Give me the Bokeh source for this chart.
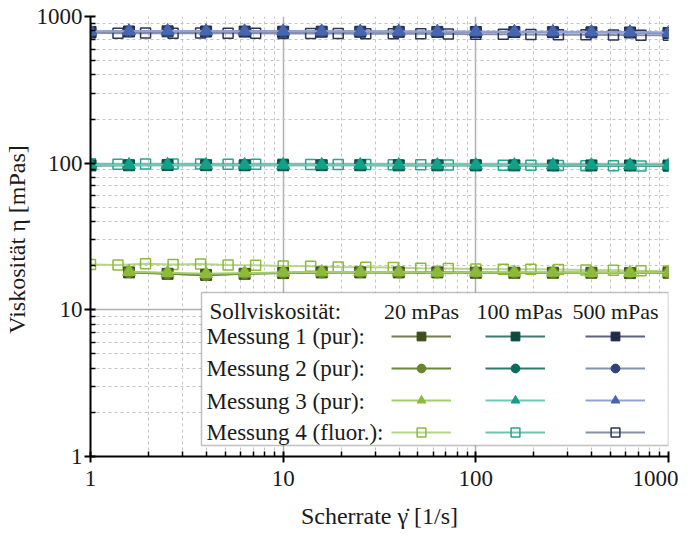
from bokeh.plotting import figure
from bokeh.models import (Range1d, FixedTicker, Legend, LegendItem, BoxAnnotation,
                          Label, CustomJSTickFormatter)
from bokeh.embed import file_html
from bokeh.resources import INLINE

FONT = "Liberation Serif"

# ---------------- data ----------------
x_pur = [1, 1.585, 2.512, 3.981, 6.31, 10, 15.85, 25.12, 39.81, 63.1,
         100, 158.5, 251.2, 398.1, 631, 1000]
x_pur_20 = [1.585, 2.512, 3.981, 6.31, 10, 15.85, 25.12, 39.81, 63.1,
            100, 158.5, 251.2, 398.1, 631, 1000]
x_fluor = [1, 1.389, 1.931, 2.683, 3.728, 5.179, 7.197, 10, 13.89, 19.31, 26.83,
           37.28, 51.79, 71.97, 100, 138.9, 193.1, 268.3, 372.8, 517.9, 719.7, 1000]

v20_m1 = [18.0, 17.6, 17.3, 17.6, 17.8, 18.0, 18.0, 18.0, 18.0, 17.9, 17.9, 17.9, 17.9, 17.8, 17.9]
v20_m2 = [18.1, 17.7, 17.2, 17.7, 17.9, 18.0, 18.1, 18.0, 18.0, 18.0, 17.9, 17.9, 17.9, 17.9, 17.9]
v20_m3 = [18.2, 17.9, 17.6, 17.8, 18.0, 18.1, 18.1, 18.1, 18.0, 18.0, 18.0, 18.0, 17.9, 17.9, 18.0]
v20_m4 = [20.4, 20.2, 20.6, 20.4, 20.5, 20.2, 20.1, 19.9, 19.8, 19.6, 19.5,
          19.4, 19.2, 19.1, 19.0, 18.9, 18.9, 18.8, 18.7, 18.6, 18.5, 18.4]

v100_m1 = [96.5, 96.8, 97.0, 96.9, 96.8, 96.8, 96.9, 96.8, 96.7, 96.7, 96.6, 96.6, 96.5, 96.5, 96.4, 96.3]
v100_m2 = [96.8, 97.1, 97.2, 97.1, 97.0, 97.0, 97.1, 97.0, 96.9, 96.9, 96.8, 96.8, 96.7, 96.7, 96.6, 96.5]
v100_m3 = [97.0, 97.3, 97.4, 97.3, 97.2, 97.2, 97.3, 97.2, 97.1, 97.1, 97.0, 97.0, 96.9, 96.9, 96.8, 96.7]
v100_m4 = [99.0, 98.5, 98.8, 98.6, 98.7, 98.5, 98.4, 98.3, 98.1, 98.0, 97.8,
           97.6, 97.4, 97.2, 97.0, 96.8, 96.6, 96.4, 96.2, 96.0, 95.8, 95.5]

v500_m1 = [785, 790, 792, 790, 789, 788, 788, 787, 786, 785, 784, 783, 782, 780, 778, 772]
v500_m2 = [788, 792, 794, 792, 791, 790, 790, 789, 788, 787, 786, 785, 784, 782, 780, 774]
v500_m3 = [790, 794, 796, 794, 793, 792, 792, 791, 790, 789, 788, 787, 786, 784, 782, 776]
v500_m4 = [775, 768, 772, 770, 771, 769, 768, 767, 766, 765, 764,
           763, 762, 760, 758, 756, 754, 752, 750, 748, 746, 744]

major_ticks = [1, 10, 100, 1000]
minor_ticks = [m * d for d in (1, 10, 100) for m in range(2, 10)]

header_text = "Sollviskosität:"
column_labels = ["20 mPas", "100 mPas", "500 mPas"]
row_labels = ["Messung 1 (pur):", "Messung 2 (pur):", "Messung 3 (pur):", "Messung 4 (fluor.):"]

# styles: (marker colour, line colour) per measurement per group
styles = {
    "20": [("#3c4f1b", "#6f7f4f"), ("#66862a", "#6a8a38"), ("#8cbb3a", "#a6cd6c"), ("#8cbb3a", "#b5d58a")],
    "100": [("#0c4a3d", "#3f7a70"), ("#0a6b5a", "#2c7c6d"), ("#13a088", "#6cc9b6"), ("#27a58e", "#6cc4b0")],
    "500": [("#1f2b4b", "#5a6482"), ("#2e4377", "#8392b8"), ("#4766b0", "#8fa3d8"), ("#2b3658", "#8890a8")],
}

groups = [
    ("20", [(x_pur_20, v20_m1), (x_pur_20, v20_m2), (x_pur_20, v20_m3), (x_fluor, v20_m4)]),
    ("100", [(x_pur, v100_m1), (x_pur, v100_m2), (x_pur, v100_m3), (x_fluor, v100_m4)]),
    ("500", [(x_pur, v500_m1), (x_pur, v500_m2), (x_pur, v500_m3), (x_fluor, v500_m4)]),
]

p = figure(width=678, height=531, x_axis_type="log", y_axis_type="log",
           x_range=Range1d(1, 1000), y_range=Range1d(1, 1000),
           output_backend="svg", toolbar_location=None,
           min_border_left=84, min_border_right=10, min_border_top=16, min_border_bottom=74)
p.outline_line_color = None
p.background_fill_color = "white"

ticker = FixedTicker(ticks=major_ticks, minor_ticks=minor_ticks)
fmt = CustomJSTickFormatter(code="return tick.toFixed(0);")
for ax in (p.xaxis[0], p.yaxis[0]):
    ax.ticker = ticker
    ax.formatter = fmt
    ax.axis_line_width = 2
    ax.axis_line_color = "black"
    ax.major_tick_line_width = 2
    ax.major_tick_line_color = "black"
    ax.minor_tick_line_width = 1.5
    ax.minor_tick_line_color = "black"
    ax.major_tick_in = 5
    ax.major_tick_out = 6
    ax.minor_tick_in = 5
    ax.minor_tick_out = 0
    ax.major_label_text_font = FONT
    ax.major_label_text_font_size = "23px"
    ax.major_label_text_color = "#1a1a1a"
    ax.axis_label_text_font = FONT
    ax.axis_label_text_font_size = "24px"
    ax.axis_label_text_font_style = "normal"
    ax.axis_label_text_color = "#1a1a1a"

p.xaxis.major_label_standoff = 8
p.yaxis.major_label_standoff = 2
p.xaxis.axis_label = "Scherrate \u03b3\u0307 [1/s]"
p.yaxis.axis_label = "Viskosität \u03b7  [mPas]"
p.xaxis.axis_label_standoff = 14
p.yaxis.axis_label_standoff = 4

for g in (p.xgrid[0], p.ygrid[0]):
    g.ticker = ticker
    g.grid_line_color = "#b0b0b0"
    g.grid_line_width = 1.5
    g.minor_grid_line_color = "#c4c4c4"
    g.minor_grid_line_dash = "3 3"
    g.minor_grid_line_width = 1

markers = ["square", "circle", "triangle", "square"]
sizes = [11, 11, 13, 10]

legend_renderers = {}
for key, series in groups:
    order = [3, 0, 1, 2]
    legend_renderers[key] = [None] * 4
    for i in order:
        xs, ys = series[i]
        mcol, lcol = styles[key][i]
        lr = p.line(xs, ys, line_color=lcol, line_width=2)
        if i == 3:
            sr = p.scatter(xs, ys, marker="square", size=sizes[i], fill_color="white",
                           fill_alpha=0, line_color=mcol, line_width=1.5)
        else:
            sr = p.scatter(xs, ys, marker=markers[i], size=sizes[i], fill_color=mcol,
                           line_color=mcol, line_width=1)
        legend_renderers[key][i] = [lr, sr]

# legend box
box = BoxAnnotation(left=111, right=578, bottom=11, top=164,
                    left_units="screen", right_units="screen",
                    bottom_units="screen", top_units="screen",
                    fill_color="white", fill_alpha=1,
                    line_color="#333333", line_width=1.5)
p.add_layout(box)

col_x = [301, 395, 495]
for (key, _), cx in zip(groups, col_x):
    items = [LegendItem(label=" ", renderers=legend_renderers[key][i]) for i in range(4)]
    leg = Legend(items=items, location=(cx, 13), orientation="vertical",
                 glyph_width=60, glyph_height=22, label_width=0, label_height=22,
                 label_standoff=0, spacing=10, padding=0, margin=0,
                 border_line_color=None, background_fill_alpha=0,
                 label_text_font_size="1px")
    p.add_layout(leg)

p.add_layout(Label(x=119, y=145, x_units="screen", y_units="screen", text=header_text,
                   text_font=FONT, text_font_size="23px", text_baseline="middle",
                   text_color="#1a1a1a"))
for cx, t in zip([331, 429, 525], column_labels):
    p.add_layout(Label(x=cx, y=145, x_units="screen", y_units="screen", text=t,
                       text_font=FONT, text_font_size="22px", text_baseline="middle",
                       text_align="center", text_color="#1a1a1a"))
for ry, t in zip([120, 88, 55, 24], row_labels):
    p.add_layout(Label(x=116, y=ry, x_units="screen", y_units="screen", text=t,
                       text_font=FONT, text_font_size="23px", text_baseline="middle",
                       text_color="#1a1a1a"))

open("out.html", "w").write(file_html(p, INLINE))
